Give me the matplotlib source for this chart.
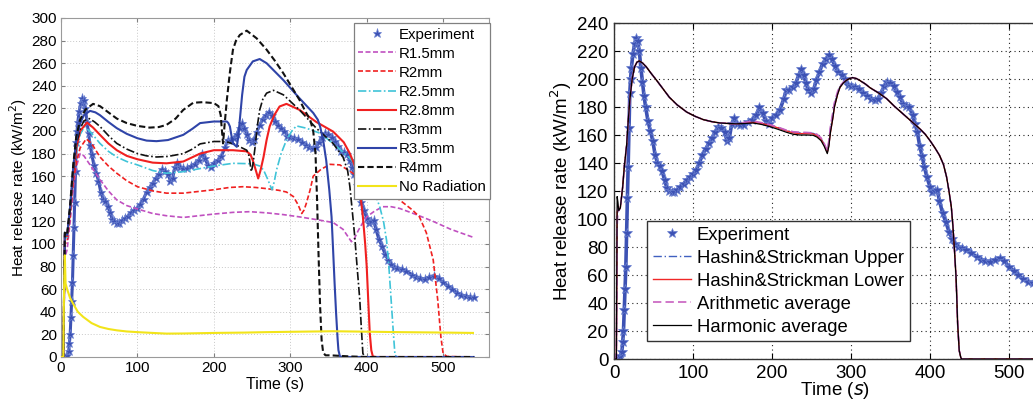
import numpy as np
import matplotlib
matplotlib.use('Agg')
import matplotlib.pyplot as plt

plt.rcParams['font.family'] = ['Liberation Sans', 'DejaVu Sans']

# ---- experiment (same test in both panels) ----
exp_t = [0, 2, 4, 6, 8, 10, 11, 12, 13, 14, 15, 16, 17, 18, 19, 20, 21, 22, 24, 26,
         28, 30, 32, 34, 36, 38, 40, 43, 46, 49, 52, 55, 58, 61, 64, 67, 70, 73, 76, 80,
         84, 88, 92, 96, 100, 104, 108, 112, 116, 120, 124, 128, 132, 136, 140, 143, 146, 149, 152, 156,
         160, 165, 170, 175, 180, 184, 188, 192, 196, 200, 205, 210, 215, 218, 222, 226, 230, 234, 237, 240,
         243, 246, 250, 253, 256, 260, 264, 268, 272, 276, 280, 284, 288, 292, 296, 300, 305, 310, 315, 320,
         325, 330, 334, 338, 342, 346, 350, 354, 358, 362, 366, 370, 374, 378, 381, 384, 387, 390, 393, 396,
         400, 403, 406, 409, 412, 416, 420, 424, 428, 432, 436, 440, 446, 452, 459, 465, 470, 476, 482, 488,
         494, 500, 506, 512, 518, 524, 530, 535, 540]
exp_q = [0, 0, 0, 1, 2, 5, 12, 20, 35, 50, 66, 90, 115, 137, 165, 190, 200, 208, 218, 225,
         229, 227, 220, 208, 198, 188, 180, 170, 163, 156, 146, 140, 138, 134, 128, 122, 120, 119, 119, 121,
         123, 125, 128, 130, 132, 135, 140, 146, 150, 154, 158, 162, 166, 165, 162, 156, 158, 168, 172, 168,
         167, 167, 169, 171, 174, 180, 176, 170, 168, 172, 174, 178, 186, 192, 192, 194, 197, 203, 207, 203,
         197, 192, 190, 193, 199, 205, 211, 214, 217, 214, 209, 205, 203, 200, 196, 195, 194, 193, 190, 188,
         186, 185, 186, 190, 195, 198, 197, 195, 191, 187, 182, 181, 180, 174, 168, 162, 152, 145, 137, 130,
         123, 119, 120, 121, 113, 104, 98, 91, 86, 82, 80, 79, 78, 76, 73, 71, 70, 69, 71, 72,
         70, 66, 63, 60, 57, 55, 54, 53, 53]

# ---- left panel: particle radius models ----
r15_t = [0, 3, 5, 8, 12, 16, 20, 25, 30, 40, 51, 62, 73, 86, 100, 120, 138, 160, 180, 200,
         225, 247, 270, 291, 312, 335, 356, 369, 376, 380, 384, 389, 395, 400, 410, 421, 432, 443, 465, 487,
         510, 539]
r15_q = [0, 0, 88, 95, 120, 150, 168, 180, 178, 168, 157, 147, 139, 134, 131, 127, 125, 123.5, 125, 126.5,
         128, 128.6, 127.5, 126, 124, 121.5, 119, 113, 106, 102, 105, 112, 119, 124, 129, 133, 133, 131.5, 126, 120,
         113, 106]

r2_t = [0, 3, 5, 8, 12, 16, 20, 25, 33, 40, 51, 62, 73, 86, 100, 120, 138, 160, 180, 200,
        220, 238, 255, 269, 285, 295, 304, 310, 315, 318, 321, 326, 330, 340, 352, 365, 382, 400, 421, 443,
        460, 469, 478, 487, 493, 497, 500, 505, 530]
r2_q = [0, 0, 100, 102, 125, 155, 172, 185, 193, 189, 177, 169, 162.6, 156, 150.7, 147, 145, 145, 146.5, 148,
        150, 150.7, 150, 149, 147.5, 146, 142, 135, 127, 130, 136, 148, 160, 166, 170.5, 170, 162.6, 154, 148, 139,
        130, 124, 110, 86, 50, 18, 3, 0.5, 0]

r25_t = [0, 3, 5, 8, 12, 16, 20, 25, 31, 40, 51, 62, 73, 86, 100, 120, 138, 160, 180, 200,
         225, 251, 260, 265, 270, 276, 279, 282, 288, 295, 302, 308, 321, 339, 356, 378, 400, 410, 417, 422,
         426, 429, 432, 435, 437, 440, 530]
r25_q = [0, 0, 105, 106, 128, 160, 182, 197, 204, 198, 189, 182, 177, 173, 170, 165, 162.6, 164, 166.5, 169,
         171.4, 171, 169, 165.5, 158, 148, 155, 165.5, 180, 192, 200, 204.5, 202.5, 198, 189, 176, 157, 146, 133, 120,
         103, 80, 50, 20, 1.5, 0, 0]

r28_t = [0, 3, 5, 8, 12, 16, 20, 25, 34, 42, 51, 62, 73, 86, 100, 120, 138, 160, 182, 200,
         225, 243, 248, 251, 255, 258, 261, 265, 269, 273, 279, 286, 295, 312, 334, 356, 370, 378, 384, 389,
         392, 395, 398, 400, 402, 404, 406, 408, 412, 530]
r28_q = [0, 0, 108, 107, 130, 162, 185, 200, 207.5, 203, 196.6, 189, 183, 178, 175, 172, 171.4, 173, 180, 183,
         183, 182, 179, 174, 165, 158, 165, 177, 192, 204, 214, 221.7, 224, 218.7, 208, 199.5, 190, 180, 170, 157,
         142, 124, 100, 80, 50, 21, 6, 0.5, 0, 0]

r3_t = [0, 3, 5, 8, 12, 16, 20, 25, 30, 37, 44, 51, 62, 73, 86, 100, 112, 125, 140, 160,
        172, 182, 200, 210, 219, 228, 234, 243, 246, 249, 251, 254, 257, 260, 264, 269, 278, 291, 312, 334,
        356, 369, 375, 378, 381, 384, 388, 391, 393, 395, 398, 540]
r3_q = [0, 0, 110, 108, 132, 165, 188, 202, 209, 211, 208, 204, 196, 189, 184, 180, 178, 177, 177.5, 180,
        184, 188.6, 190.7, 190.7, 190, 188, 186, 183, 178, 164, 170, 186, 205, 218.7, 228, 233.5, 236, 232, 218.7, 202.5,
        189, 177, 165, 150.7, 130, 109, 75, 50, 25, 3, 0, 0]

r35_t = [0, 3, 5, 8, 12, 16, 20, 25, 30, 38, 45, 51, 62, 73, 86, 100, 112, 125, 140, 160,
         172, 182, 200, 217, 219, 221, 223, 225, 230, 232, 234, 237, 240, 243, 251, 260, 269, 280, 291, 312,
         330, 336, 339, 343, 347, 351, 354, 356, 358, 360, 362, 363, 365, 370, 540]
r35_q = [0, 0, 110, 108, 133, 168, 192, 207, 214, 217.8, 216.5, 214, 208, 202.5, 197.5, 193.6, 191.5, 191, 192, 196.6,
         202, 207, 208.4, 208.4, 207, 204, 196, 189, 186, 195, 210, 232, 248, 254, 261.6, 263.7, 260, 252.5, 245, 229,
         216, 210, 204, 192, 174, 148, 124, 95, 65, 38, 15, 6, 0.5, 0, 0]

r4_t = [0, 3, 5, 8, 12, 16, 20, 25, 32, 42, 51, 62, 73, 86, 100, 116, 128, 138, 150, 160,
        173, 185, 200, 206, 209, 210, 212, 214, 217, 221, 225, 229, 234, 243, 256, 269, 280, 291, 300, 312,
        320, 326, 330, 333, 335, 337, 339, 341, 343, 346, 352, 378, 400, 540]
r4_q = [0, 0, 110, 108, 135, 170, 195, 210, 219, 224, 222, 216.5, 211, 207, 204.5, 203, 203.5, 205.4, 211, 218.7,
        225, 225.5, 224.7, 222, 214, 205, 189, 205, 227.6, 252, 272, 280, 285, 288.8, 282, 272, 262, 251, 241, 227.6,
        217, 210, 200, 180, 140, 90, 45, 15, 4, 1.5, 1.5, 0.5, 0, 0]

norad_t = [0, 3, 4, 5, 6, 8, 12, 16, 22, 29, 40, 51, 62, 73, 86, 100, 120, 138, 160, 200,
           240, 269, 300, 356, 400, 443, 490, 539]
norad_q = [0, 0, 60, 90, 65, 60, 52, 47, 40, 35.5, 30, 26.6, 24.8, 23.6, 22.6, 22, 21.3, 20.7, 20.8, 21.3,
           21.6, 22, 22.3, 22.8, 22.4, 22, 21.7, 21.3]

# ---- right panel: conductivity averaging models ----
avg_t = [0, 3, 4, 5, 6, 8, 9, 11, 13, 16, 18, 20, 23, 26, 29, 32, 36, 41, 47, 54,
         62, 70, 80, 92, 102, 113, 124, 134, 145, 155, 165, 176, 187, 197, 208, 218, 227, 235, 244, 252,
         257, 262, 266, 270, 272, 274, 277, 279, 283, 286, 290, 294, 298, 302, 307, 311, 318, 324, 335, 345,
         355, 366, 376, 387, 394, 400, 406, 412, 417, 421, 424, 427, 429, 431, 433, 434, 435, 437, 439, 440,
         470, 560]
harmonic = [0, 0, 116, 112, 106, 108, 113, 123, 137, 153, 170, 185, 200, 208.6, 212, 212.9, 211.5, 208.6, 204, 199,
            193, 187, 181.5, 176.4, 173.5, 171, 169.5, 168.6, 168.2, 168, 168.2, 168.6, 167.5, 166, 164, 162, 160.5, 160, 160, 159.8,
            158.5, 156, 152, 146.7, 152, 162, 172, 180, 189, 194, 197, 199, 200.3, 201, 200.3, 199, 196.5, 193.8, 190, 186,
            180.5, 175, 170, 164.5, 160.5, 156, 151, 145.5, 139, 130, 120, 108.6, 95, 77.6, 58, 42, 25, 6, 1, 0,
            0, 0]
hs_lower = [0, 0, 105, 108, 106, 108, 113, 123, 137, 153, 170, 185, 200, 208.6, 212, 212.9, 211.5, 208.6, 204, 199,
            193, 187, 181.5, 176.4, 173.5, 171, 169.5, 168.6, 168.2, 168, 168.4, 169, 168.2, 167, 165, 163, 161.5, 161, 161, 160.8,
            159.5, 157, 153, 147.5, 153, 162, 172, 180, 189, 194, 197, 199, 200.3, 201, 200.3, 199, 196.5, 193.8, 190, 186,
            180.5, 175, 170, 164.5, 160.5, 156, 151, 145.5, 139, 130, 120, 108.6, 95, 77.6, 58, 42, 25, 6, 1, 0,
            0, 0]
hs_upper = [0, 0, 100, 108, 106, 108, 113, 123, 137, 153, 170, 185, 200, 208.6, 212, 212.9, 211.5, 208.6, 204, 199,
            193, 187, 181.5, 176.4, 173.5, 171, 169.5, 168.6, 168.2, 168, 168.6, 169.5, 168.5, 167.2, 165.3, 163.3, 162, 161.5, 161.4, 161.2,
            160, 157.5, 153.5, 148, 155, 165, 175, 182, 190, 194.5, 197, 199, 200.3, 201, 200.3, 199, 196.5, 193.8, 190, 186,
            180.5, 175, 170, 164.5, 160.5, 156, 151, 145.5, 139, 130, 120, 108.6, 95, 77.6, 58, 42, 25, 6, 1, 0,
            0, 0]
arith = [0, 0, 95, 108, 106, 108, 113, 123, 137, 153, 170, 185, 200, 208.6, 212, 212.9, 211.5, 208.6, 204, 199,
         193, 187, 181.5, 176.4, 173.5, 171, 169.5, 168.6, 168.2, 168, 169, 170, 168.8, 167.5, 165.5, 163.5, 162.3, 162, 161.8, 161.5,
         160.5, 158, 154, 149, 156, 166, 176, 183, 191, 195, 197.5, 199.3, 200.5, 201, 200.3, 199, 196.5, 193.8, 190, 186,
         180.5, 175, 170, 164.5, 160.5, 156, 151, 145.5, 139, 130, 120, 108.6, 95, 77.6, 58, 42, 25, 6, 1, 0,
         0, 0]

exp_blue = '#3d52b4'

fig = plt.figure(figsize=(10.33, 4.01), dpi=100)
ax1 = fig.add_axes([61 / 1033, 1 - 357 / 401, 428 / 1033, 339 / 401])
ax2 = fig.add_axes([614 / 1033, 1 - 359 / 401, 442.4 / 1033, 336 / 401])

# left panel
ax1.plot(exp_t, exp_q, color=exp_blue, lw=2.2, zorder=2)
ax1.plot(exp_t, exp_q, ls='none', marker='*', ms=6.5, color=exp_blue, mec='#6a80d0', mew=0.5,
         label='Experiment', zorder=2)
ax1.plot(r15_t, r15_q, color='#c050c0', ls=(0, (3, 1.5)), lw=1.2, label='R1.5mm', zorder=3)
ax1.plot(r2_t, r2_q, color='#f02020', ls=(0, (3, 1.5)), lw=1.2, label='R2mm', zorder=3)
ax1.plot(r25_t, r25_q, color='#40c4d8', ls=(0, (5, 1.5, 1, 1.5)), lw=1.2, label='R2.5mm', zorder=3)
ax1.plot(r28_t, r28_q, color='#f02020', ls='-', lw=1.5, label='R2.8mm', zorder=3)
ax1.plot(r3_t, r3_q, color='#111111', ls=(0, (5, 1.5, 1, 1.5)), lw=1.2, label='R3mm', zorder=3)
ax1.plot(r35_t, r35_q, color='#2f44a8', ls='-', lw=1.5, label='R3.5mm', zorder=3)
ax1.plot(r4_t, r4_q, color='#111111', ls=(0, (3, 1.5)), lw=1.5, label='R4mm', zorder=3)
ax1.plot(norad_t, norad_q, color='#f2e41a', ls='-', lw=1.5, label='No Radiation', zorder=3)

ax1.set_xlim(0, 560)
ax1.set_ylim(0, 300)
ax1.set_xticks(np.arange(0, 501, 100))
ax1.set_yticks(np.arange(0, 301, 20))
ax1.grid(True, color='#c8c8c8', ls=(0, (1, 2)), lw=0.7)
ax1.tick_params(direction='in', length=3, labelsize=11, top=True, right=True,
                colors='#808080', labelcolor='black', pad=3)
for s in ax1.spines.values():
    s.set_color('#9a9a9a')
ax1.set_xlabel('Time (s)', fontsize=11.5, labelpad=1)
ax1.set_ylabel('Heat release rate (kW/m$^2$)', fontsize=11, labelpad=2)
leg1 = ax1.legend(loc='upper right', bbox_to_anchor=(490 / 1033, 1 - 23 / 401),
                  bbox_transform=fig.transFigure, borderaxespad=0, fontsize=10.8,
                  fancybox=False, edgecolor='#808080', framealpha=1, handlelength=2.5,
                  handletextpad=0.2, labelspacing=0.34, borderpad=0.3)
leg1.get_frame().set_linewidth(0.9)

# right panel
ax2.plot(exp_t, exp_q, color=exp_blue, lw=2.6, zorder=2)
ax2.plot(exp_t, exp_q, ls='none', marker='*', ms=7.5, color=exp_blue, mec='#6a80d0', mew=0.5,
         label='Experiment', zorder=2)
ax2.plot(avg_t, hs_upper, color='#4060c0', ls=(0, (6, 2, 1, 2)), lw=1.0,
         label='Hashin&Strickman Upper', zorder=3)
ax2.plot(avg_t, hs_lower, color='#f02828', ls='-', lw=1.0,
         label='Hashin&Strickman Lower', zorder=3)
ax2.plot(avg_t, arith, color='#c860c0', ls=(0, (5, 2.5)), lw=1.2,
         label='Arithmetic average', zorder=3)
ax2.plot(avg_t, harmonic, color='black', ls='-', lw=0.9, label='Harmonic average', zorder=4)

ax2.set_xlim(0, 560)
ax2.set_ylim(0, 240)
ax2.set_xticks(np.arange(0, 501, 100))
ax2.set_yticks(np.arange(0, 241, 20))
ax2.grid(True, color='#222222', ls=(0, (1, 3)), lw=0.8)
ax2.tick_params(direction='in', length=4, labelsize=13.5, top=True, right=True, pad=4)
for s in ax2.spines.values():
    s.set_color('#333333')
    s.set_linewidth(1.0)
ax2.set_xlabel('Time ($s$)', fontsize=13.5, labelpad=-1)
ax2.set_ylabel('Heat release rate (kW/m$^2$)', fontsize=13.5, labelpad=2)
leg2 = ax2.legend(loc='upper left', bbox_to_anchor=(647 / 1033, 1 - 221 / 401),
                  bbox_transform=fig.transFigure, borderaxespad=0, fontsize=13.3,
                  fancybox=False, edgecolor='#333333', framealpha=1, handlelength=2.1,
                  handletextpad=0.3, labelspacing=0.33, borderpad=0.3)
leg2.get_frame().set_linewidth(1.0)

fig.savefig('out.png', dpi=100)
